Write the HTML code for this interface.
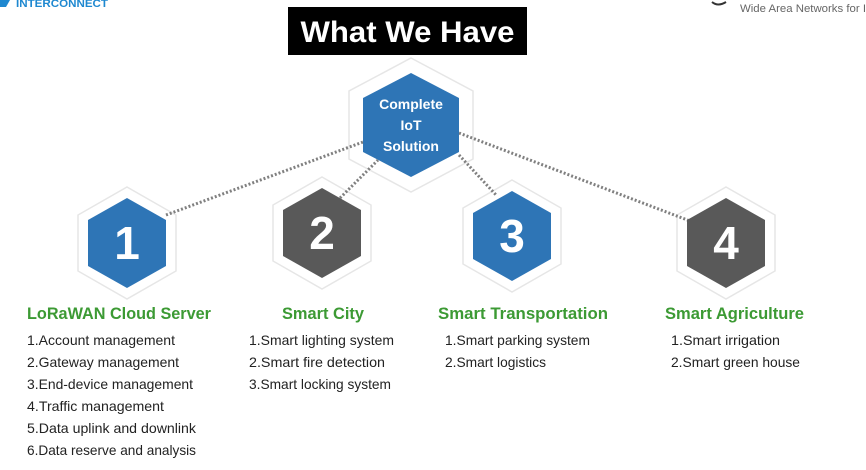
<!DOCTYPE html>
<html><head><meta charset="utf-8"><style>
html,body{margin:0;padding:0;background:#fff;}
svg{display:block;font-family:"Liberation Sans",sans-serif;}
</style></head><body>
<svg width="866" height="470" viewBox="0 0 866 470" xmlns="http://www.w3.org/2000/svg">
<path d="M0 0 L10 0 L6 7 L0 7 Z" fill="#1e88d0"/>
<text x="16" y="7" font-size="11" fill="#1e88d0" font-weight="bold" textLength="92" lengthAdjust="spacingAndGlyphs">INTERCONNECT</text>
<path d="M712 2 Q718 7 726 2" stroke="#333" stroke-width="2" fill="none"/>
<text x="740" y="12" font-size="11" fill="#666" textLength="126" lengthAdjust="spacingAndGlyphs">Wide Area Networks for I</text>
<rect x="288" y="7" width="239" height="48" fill="#000"/>
<text x="407.5" y="42" font-size="30" font-weight="bold" fill="#fff" text-anchor="middle" textLength="214" lengthAdjust="spacingAndGlyphs">What We Have</text>
<!-- outer rings -->
<g fill="#fff" stroke="#e6e6e6" stroke-width="1.5">
<polygon transform="translate(411,125)" points="0,-67 62,-34 62,34 0,67 -62,34 -62,-34"/>
<polygon transform="translate(127,243)" points="0,-56 49,-28 49,28 0,56 -49,28 -49,-28"/>
<polygon transform="translate(322,233)" points="0,-56 49,-28 49,28 0,56 -49,28 -49,-28"/>
<polygon transform="translate(512,236)" points="0,-56 49,-28 49,28 0,56 -49,28 -49,-28"/>
<polygon transform="translate(726,243)" points="0,-56 49,-28 49,28 0,56 -49,28 -49,-28"/>
</g>
<g stroke="#808080" stroke-width="3" stroke-dasharray="2,2" fill="none">
<line x1="166" y1="215" x2="363" y2="142"/>
<line x1="340" y1="198" x2="378" y2="160"/>
<line x1="459" y1="155" x2="497" y2="196"/>
<line x1="459" y1="133" x2="690" y2="221"/>
</g>
<g transform="translate(411,125)">
<polygon points="0,-52 48,-27 48,27 0,52 -48,27 -48,-27" fill="#2e75b6"/>
<g font-size="14" font-weight="bold" fill="#fff" text-anchor="middle">
<text x="0" y="-16">Complete</text>
<text x="0" y="5">IoT</text>
<text x="0" y="26">Solution</text>
</g>
</g>
<g font-size="46" font-weight="bold" fill="#fff" text-anchor="middle">
<g transform="translate(127,243)">
<polygon points="0,-45 39,-23 39,23 0,45 -39,23 -39,-23" fill="#2e75b6"/>
<text x="0" y="16">1</text></g>
<g transform="translate(322,233)">
<polygon points="0,-45 39,-23 39,23 0,45 -39,23 -39,-23" fill="#595959"/>
<text x="0" y="16">2</text></g>
<g transform="translate(512,236)">
<polygon points="0,-45 39,-23 39,23 0,45 -39,23 -39,-23" fill="#2e75b6"/>
<text x="0" y="16">3</text></g>
<g transform="translate(726,243)">
<polygon points="0,-45 39,-23 39,23 0,45 -39,23 -39,-23" fill="#595959"/>
<text x="0" y="16">4</text></g>
</g>
<g font-size="17" font-weight="bold" fill="#3c9a34">
<text x="27" y="319" textLength="184" lengthAdjust="spacingAndGlyphs">LoRaWAN Cloud Server</text>
<text x="282" y="319" textLength="82" lengthAdjust="spacingAndGlyphs">Smart City</text>
<text x="438" y="319" textLength="170" lengthAdjust="spacingAndGlyphs">Smart Transportation</text>
<text x="665" y="319" textLength="139" lengthAdjust="spacingAndGlyphs">Smart Agriculture</text>
</g>
<g font-size="14" fill="#222">
<text x="27" y="345" textLength="148" lengthAdjust="spacingAndGlyphs">1.Account management</text>
<text x="27" y="367" textLength="152" lengthAdjust="spacingAndGlyphs">2.Gateway management</text>
<text x="27" y="389" textLength="166" lengthAdjust="spacingAndGlyphs">3.End-device management</text>
<text x="27" y="411" textLength="137" lengthAdjust="spacingAndGlyphs">4.Traffic management</text>
<text x="27" y="433" textLength="169" lengthAdjust="spacingAndGlyphs">5.Data uplink and downlink</text>
<text x="27" y="455" textLength="169" lengthAdjust="spacingAndGlyphs">6.Data reserve and analysis</text>
<text x="249" y="345" textLength="145" lengthAdjust="spacingAndGlyphs">1.Smart lighting system</text>
<text x="249" y="367" textLength="136" lengthAdjust="spacingAndGlyphs">2.Smart fire detection</text>
<text x="249" y="389" textLength="142" lengthAdjust="spacingAndGlyphs">3.Smart locking system</text>
<text x="445" y="345" textLength="145" lengthAdjust="spacingAndGlyphs">1.Smart parking system</text>
<text x="445" y="367" textLength="101" lengthAdjust="spacingAndGlyphs">2.Smart logistics</text>
<text x="671" y="345" textLength="109" lengthAdjust="spacingAndGlyphs">1.Smart irrigation</text>
<text x="671" y="367" textLength="129" lengthAdjust="spacingAndGlyphs">2.Smart green house</text>
</g>
</svg>
</body></html>
